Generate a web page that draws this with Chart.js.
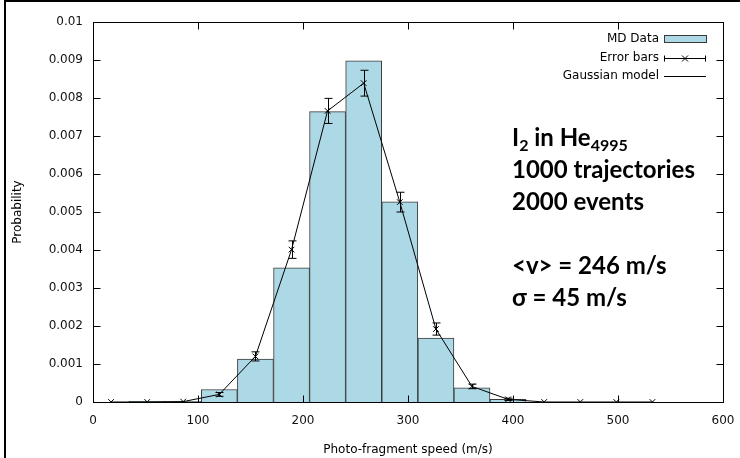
<!DOCTYPE html>
<html>
<head>
<meta charset="utf-8">
<title>Photo-fragment speed distribution</title>
<script src="https://cdn.jsdelivr.net/npm/chart.js@4.4.1/dist/chart.umd.min.js"></script>
<style>
    html, body { margin: 0; padding: 0; background: #fff; }
    #wrap { position: relative; width: 740px; height: 458px; overflow: hidden; }
    #frame { position: absolute; left: 4px; top: 0; width: 736px; height: 458px; border-left: 2px solid #000; border-top: 2px solid #000; box-sizing: border-box; pointer-events: none; }
    #note { position: absolute; left: 512px; top: 121px; font-family: Lato, sans-serif; font-weight: 700; font-size: 24px; line-height: 32px; color: #000; white-space: nowrap; }
    #note sub { font-size: 16px; line-height: 0; vertical-align: -5px; }
</style>
</head>
<body>
<div id="wrap">
    <canvas id="speedChart" width="740" height="458"></canvas>
    <div id="frame"></div>
    <div id="note">
        I<sub>2</sub> in He<sub>4995</sub><br>
        1000 trajectories<br>
        2000 events<br>
        <br>
        &lt;v&gt; = 246 m/s<br>
        σ = 45 m/s
    </div>
</div>
<script>
const xTicks = [0, 100, 200, 300, 400, 500, 600];
const yTicks = [0, 0.001, 0.002, 0.003, 0.004, 0.005, 0.006, 0.007, 0.008, 0.009, 0.01];
const yTickLabels = ['0', '0.001', '0.002', '0.003', '0.004', '0.005', '0.006', '0.007', '0.008', '0.009', '0.01'];

// bin centres of the histogram (m/s)
const binCenters = [17.2, 51.6, 85.9, 120.3, 154.7, 189.1, 223.4, 257.8, 292.2, 326.6, 360.9, 395.3, 429.7, 464.1, 498.4, 532.8];
const mdData = [0, 0.000015, 0.000015, 0.00033, 0.00113, 0.00353, 0.00764, 0.00898, 0.00527, 0.00168, 0.00037, 0.00007, 0, 0, 0, 0];
const modelValues = [0, 0, 0.00001, 0.0002, 0.0012, 0.00401, 0.00766, 0.00839, 0.00526, 0.00192, 0.00041, 0.00007, 0, 0, 0, 0];
const errorSizes = [0, 0, 0, 0.00005, 0.00012, 0.00023, 0.00033, 0.00034, 0.00026, 0.00016, 0.00006, 0.00003, 0, 0, 0, 0];

Chart.defaults.font.family = '"DejaVu Sans", sans-serif';
Chart.defaults.font.size = 12;
Chart.defaults.color = '#111';

// gnuplot style frame with inward ticks on all four sides
const frameTicks = {
    id: 'frameTicks',
    afterDraw(chart) {
        const ctx = chart.ctx;
        const a = chart.chartArea;
        const xs = chart.scales.x, ys = chart.scales.y;
        const L = Math.round(a.left) + 0.5, R = Math.round(a.right) + 0.5;
        const T = Math.round(a.top) + 0.5, B = Math.round(a.bottom) + 0.5;
        ctx.save();
        ctx.strokeStyle = '#000';
        ctx.lineWidth = 1;
        ctx.strokeRect(L, T, R - L, B - T);
        ctx.beginPath();
        xTicks.forEach(v => {
            const px = Math.round(xs.getPixelForValue(v)) + 0.5;
            ctx.moveTo(px, B); ctx.lineTo(px, B - 7);
            ctx.moveTo(px, T); ctx.lineTo(px, T + 7);
        });
        yTicks.forEach(v => {
            const py = Math.round(ys.getPixelForValue(v)) + 0.5;
            ctx.moveTo(L, py); ctx.lineTo(L + 7, py);
            ctx.moveTo(R, py); ctx.lineTo(R - 7, py);
        });
        ctx.stroke();
        ctx.restore();
    }
};

const errorBars = {
    id: 'errorBars',
    afterDatasetsDraw(chart) {
        const ctx = chart.ctx;
        const xs = chart.scales.x, ys = chart.scales.y;
        ctx.save();
        ctx.strokeStyle = '#000';
        ctx.lineWidth = 1;
        ctx.beginPath();
        binCenters.forEach((x, i) => {
            if (!errorSizes[i]) return;
            const px = Math.round(xs.getPixelForValue(x)) + 0.5;
            const lo = ys.getPixelForValue(modelValues[i] - errorSizes[i]);
            const hi = ys.getPixelForValue(modelValues[i] + errorSizes[i]);
            ctx.moveTo(px, lo); ctx.lineTo(px, hi);
            ctx.moveTo(px - 4, lo); ctx.lineTo(px + 4, lo);
            ctx.moveTo(px - 4, hi); ctx.lineTo(px + 4, hi);
        });
        ctx.stroke();
        ctx.restore();
    }
};

// key in the gnuplot way: text on the left, sample on the right
const keyBox = {
    id: 'keyBox',
    afterDraw(chart) {
        const ctx = chart.ctx;
        const ds = chart.data.datasets;
        const tx = 659, k0 = 664, k1 = 706;
        const rows = [39, 58, 76];
        ctx.save();
        ctx.font = '12px "DejaVu Sans"';
        ctx.fillStyle = '#000';
        ctx.textAlign = 'right';
        ctx.textBaseline = 'middle';
        ds.forEach((d, i) => ctx.fillText(d.label, tx, rows[i]));

        ctx.fillStyle = ds[0].backgroundColor;
        ctx.fillRect(k0, rows[0] - 3, k1 - k0, 6);
        ctx.strokeStyle = ds[0].borderColor;
        ctx.lineWidth = 1;
        ctx.strokeRect(k0 + 0.5, rows[0] - 3.5, k1 - k0, 7);

        ctx.strokeStyle = '#000';
        ctx.beginPath();
        const ey = rows[1] + 0.5, mid = (k0 + k1) / 2;
        ctx.moveTo(k0, ey); ctx.lineTo(k1, ey);
        ctx.moveTo(k0 + 0.5, ey - 3); ctx.lineTo(k0 + 0.5, ey + 3);
        ctx.moveTo(k1 - 0.5, ey - 3); ctx.lineTo(k1 - 0.5, ey + 3);
        ctx.moveTo(mid - 3, ey - 3); ctx.lineTo(mid + 3, ey + 3);
        ctx.moveTo(mid + 3, ey - 3); ctx.lineTo(mid - 3, ey + 3);
        ctx.moveTo(k0, rows[2] + 0.5); ctx.lineTo(k1, rows[2] + 0.5);
        ctx.stroke();
        ctx.restore();
    }
};

const ctx = document.getElementById('speedChart').getContext('2d');
const speedChart = new Chart(ctx, {
    type: 'bar',
    data: {
        datasets: [{
            label: 'MD Data',
            data: binCenters.map((x, i) => ({ x: x, y: mdData[i] })),
            backgroundColor: '#add8e6',
            borderColor: '#3a3a3a',
            borderWidth: 1,
            barPercentage: 1,
            categoryPercentage: 1,
            order: 3
        }, {
            type: 'scatter',
            label: 'Error bars',
            data: binCenters.map((x, i) => ({ x: x, y: modelValues[i] })),
            pointStyle: 'crossRot',
            pointRadius: 4,
            borderColor: '#000',
            borderWidth: 1,
            order: 0
        }, {
            type: 'line',
            label: 'Gaussian model',
            data: binCenters.map((x, i) => ({ x: x, y: modelValues[i] })),
            borderColor: '#000',
            borderWidth: 1,
            pointRadius: 0,
            tension: 0,
            order: 1
        }]
    },
    options: {
        responsive: false,
        animation: false,
        layout: { padding: { left: 0, right: 17, top: 22, bottom: 0 } },
        plugins: {
            legend: { display: false },
            tooltip: { enabled: false }
        },
        scales: {
            x: {
                type: 'linear',
                min: 0,
                max: 600,
                offset: false,
                afterBuildTicks: scale => { scale.ticks = xTicks.map(v => ({ value: v })); },
                afterFit: scale => {
                    scale.height = 56;
                    scale.paddingLeft = 0;
                    scale.paddingRight = 0;
                },
                grid: { display: false, drawTicks: false },
                border: { display: false },
                ticks: { padding: 12, maxRotation: 0, color: '#111' },
                title: {
                    display: true,
                    text: 'Photo-fragment speed (m/s)',
                    color: '#000',
                    padding: { top: 0, bottom: 1 }
                }
            },
            y: {
                type: 'linear',
                min: 0,
                max: 0.01,
                afterBuildTicks: scale => { scale.ticks = yTicks.map(v => ({ value: v })); },
                afterFit: scale => { scale.width = 93; },
                grid: { display: false, drawTicks: false },
                border: { display: false },
                ticks: {
                    padding: 10,
                    color: '#111',
                    callback: (value, index) => yTickLabels[index]
                },
                title: {
                    display: true,
                    text: 'Probability',
                    color: '#000',
                    padding: { top: 11, bottom: 0 }
                }
            }
        }
    },
    plugins: [errorBars, frameTicks, keyBox]
});
</script>
</body>
</html>
